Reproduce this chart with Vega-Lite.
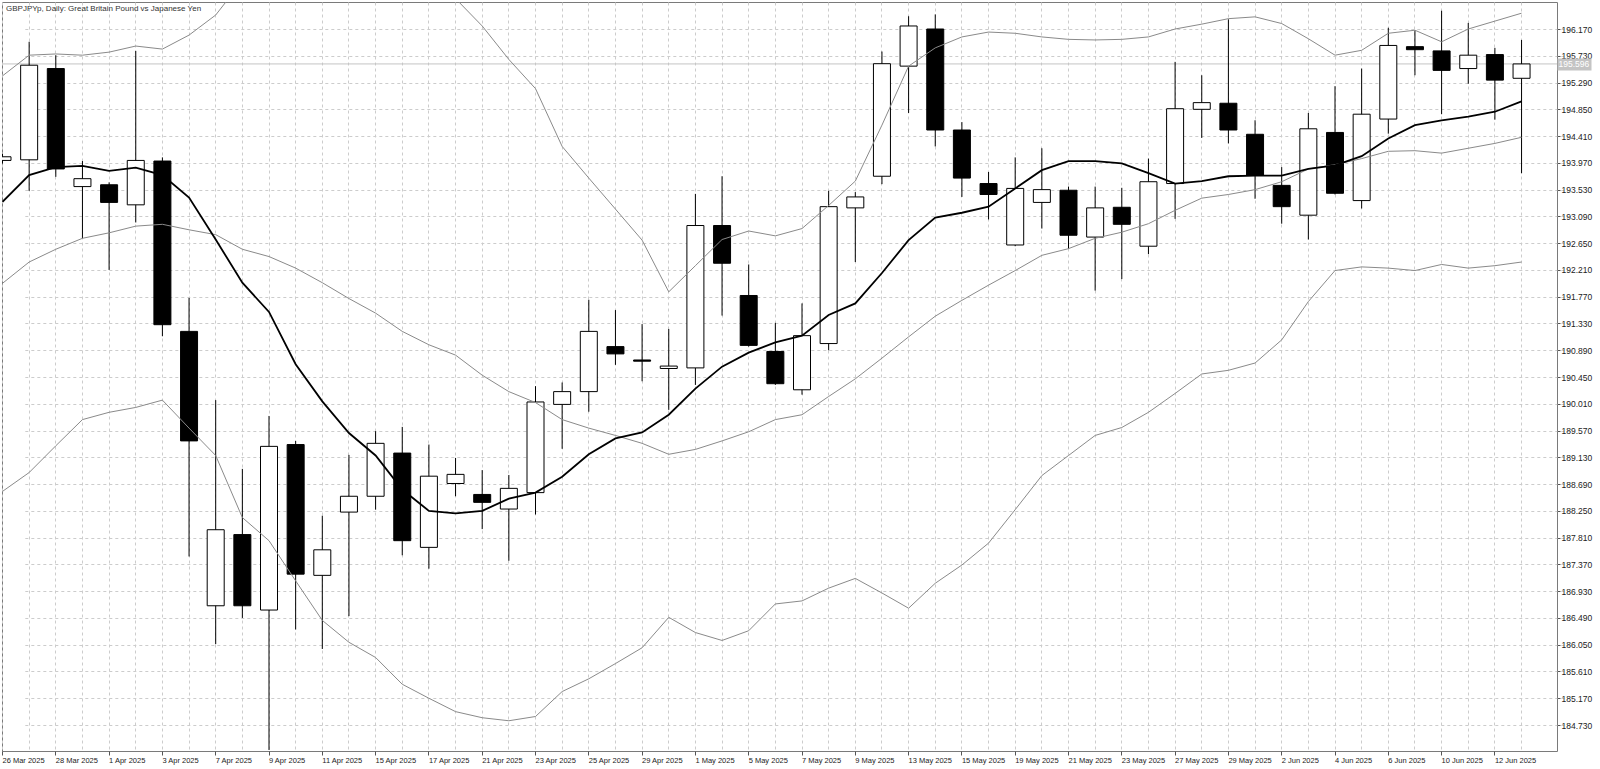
{
  "$schema": "https://vega.github.io/schema/vega-lite/v6.json",
  "width": 1555,
  "height": 749,
  "autosize": {"type": "none"},
  "padding": {"left": 2, "top": 2, "right": 43, "bottom": 18},
  "background": "white",
  "title": {
    "text": "GBPJPYp, Daily:  Great Britain Pound vs Japanese Yen",
    "anchor": "start",
    "frame": "group",
    "offset": -11,
    "dx": 4,
    "fontSize": 8,
    "fontWeight": "normal",
    "color": "#333333"
  },
  "datasets": {
    "bars": [
      {"d": "26 Mar 2025", "o": 194.01, "h": 194.12, "l": 193.96, "c": 194.07, "m": 193.33, "b": 191.99, "u": 195.40, "lo": 188.57},
      {"d": "27 Mar 2025", "o": 194.02, "h": 195.96, "l": 193.51, "c": 195.575, "m": 193.77, "b": 192.34, "u": 195.74, "lo": 188.88},
      {"d": "28 Mar 2025", "o": 195.52, "h": 195.74, "l": 193.74, "c": 193.87, "m": 193.90, "b": 192.55, "u": 195.76, "lo": 189.32},
      {"d": "31 Mar 2025", "o": 193.58, "h": 194.00, "l": 192.73, "c": 193.71, "m": 193.92, "b": 192.73, "u": 195.74, "lo": 189.75},
      {"d": "1 Apr 2025", "o": 193.61, "h": 193.65, "l": 192.21, "c": 193.32, "m": 193.84, "b": 192.82, "u": 195.79, "lo": 189.87},
      {"d": "2 Apr 2025", "o": 193.28, "h": 195.81, "l": 192.99, "c": 194.01, "m": 193.89, "b": 192.93, "u": 195.89, "lo": 189.95},
      {"d": "3 Apr 2025", "o": 194.00, "h": 194.06, "l": 191.12, "c": 191.31, "m": 193.77, "b": 192.96, "u": 195.84, "lo": 190.07},
      {"d": "4 Apr 2025", "o": 191.20, "h": 191.75, "l": 187.50, "c": 189.40, "m": 193.40, "b": 192.87, "u": 196.07, "lo": 189.61},
      {"d": "7 Apr 2025", "o": 186.69, "h": 190.07, "l": 186.06, "c": 187.94, "m": 192.71, "b": 192.79, "u": 196.40, "lo": 189.16},
      {"d": "8 Apr 2025", "o": 187.86, "h": 188.94, "l": 186.49, "c": 186.69, "m": 192.00, "b": 192.55, "u": 196.96, "lo": 188.14},
      {"d": "9 Apr 2025", "o": 186.62, "h": 189.81, "l": 184.32, "c": 189.31, "m": 191.52, "b": 192.43, "u": 197.10, "lo": 187.76},
      {"d": "10 Apr 2025", "o": 189.34, "h": 189.40, "l": 186.30, "c": 187.21, "m": 190.66, "b": 192.24, "u": 197.38, "lo": 187.10},
      {"d": "11 Apr 2025", "o": 187.19, "h": 188.17, "l": 185.98, "c": 187.61, "m": 190.05, "b": 192.00, "u": 197.55, "lo": 186.45},
      {"d": "14 Apr 2025", "o": 188.23, "h": 189.17, "l": 186.52, "c": 188.49, "m": 189.53, "b": 191.74, "u": 197.39, "lo": 186.09},
      {"d": "15 Apr 2025", "o": 188.49, "h": 189.56, "l": 188.27, "c": 189.36, "m": 189.16, "b": 191.50, "u": 197.16, "lo": 185.84},
      {"d": "16 Apr 2025", "o": 189.20, "h": 189.63, "l": 187.52, "c": 187.76, "m": 188.60, "b": 191.20, "u": 197.00, "lo": 185.40},
      {"d": "17 Apr 2025", "o": 187.65, "h": 189.34, "l": 187.30, "c": 188.82, "m": 188.25, "b": 190.98, "u": 196.79, "lo": 185.17},
      {"d": "18 Apr 2025", "o": 188.70, "h": 189.12, "l": 188.49, "c": 188.85, "m": 188.21, "b": 190.81, "u": 196.67, "lo": 184.95},
      {"d": "21 Apr 2025", "o": 188.52, "h": 188.92, "l": 187.95, "c": 188.39, "m": 188.25, "b": 190.48, "u": 196.22, "lo": 184.85},
      {"d": "22 Apr 2025", "o": 188.28, "h": 188.84, "l": 187.43, "c": 188.62, "m": 188.45, "b": 190.21, "u": 195.67, "lo": 184.80},
      {"d": "23 Apr 2025", "o": 188.55, "h": 190.30, "l": 188.19, "c": 190.04, "m": 188.55, "b": 190.03, "u": 195.19, "lo": 184.87},
      {"d": "24 Apr 2025", "o": 190.00, "h": 190.36, "l": 189.27, "c": 190.21, "m": 188.81, "b": 189.75, "u": 194.24, "lo": 185.28},
      {"d": "25 Apr 2025", "o": 190.21, "h": 191.72, "l": 189.88, "c": 191.20, "m": 189.18, "b": 189.61, "u": 193.72, "lo": 185.49},
      {"d": "28 Apr 2025", "o": 190.95, "h": 191.55, "l": 190.65, "c": 190.83, "m": 189.44, "b": 189.49, "u": 193.21, "lo": 185.74},
      {"d": "29 Apr 2025", "o": 190.73, "h": 191.32, "l": 190.38, "c": 190.71, "m": 189.54, "b": 189.36, "u": 192.70, "lo": 186.00},
      {"d": "30 Apr 2025", "o": 190.59, "h": 191.24, "l": 189.91, "c": 190.63, "m": 189.83, "b": 189.18, "u": 191.85, "lo": 186.50},
      {"d": "1 May 2025", "o": 190.60, "h": 193.46, "l": 190.32, "c": 192.94, "m": 190.26, "b": 189.26, "u": 192.28, "lo": 186.25},
      {"d": "2 May 2025", "o": 192.94, "h": 193.75, "l": 191.46, "c": 192.32, "m": 190.62, "b": 189.40, "u": 192.71, "lo": 186.12},
      {"d": "5 May 2025", "o": 191.79, "h": 192.30, "l": 190.95, "c": 190.97, "m": 190.85, "b": 189.55, "u": 192.85, "lo": 186.28},
      {"d": "6 May 2025", "o": 190.87, "h": 191.34, "l": 190.32, "c": 190.34, "m": 191.02, "b": 189.75, "u": 192.77, "lo": 186.72},
      {"d": "7 May 2025", "o": 190.24, "h": 191.66, "l": 190.16, "c": 191.13, "m": 191.13, "b": 189.83, "u": 192.89, "lo": 186.77},
      {"d": "8 May 2025", "o": 191.00, "h": 193.51, "l": 190.89, "c": 193.25, "m": 191.47, "b": 190.13, "u": 193.27, "lo": 186.98},
      {"d": "9 May 2025", "o": 193.23, "h": 193.49, "l": 192.34, "c": 193.41, "m": 191.66, "b": 190.42, "u": 193.67, "lo": 187.14},
      {"d": "12 May 2025", "o": 193.75, "h": 195.80, "l": 193.62, "c": 195.60, "m": 192.16, "b": 190.76, "u": 194.59, "lo": 186.90},
      {"d": "13 May 2025", "o": 195.56, "h": 196.38, "l": 194.79, "c": 196.22, "m": 192.70, "b": 191.11, "u": 195.56, "lo": 186.65},
      {"d": "14 May 2025", "o": 196.17, "h": 196.41, "l": 194.24, "c": 194.51, "m": 193.07, "b": 191.45, "u": 195.86, "lo": 187.06},
      {"d": "15 May 2025", "o": 194.51, "h": 194.64, "l": 193.41, "c": 193.72, "m": 193.15, "b": 191.71, "u": 196.04, "lo": 187.36},
      {"d": "16 May 2025", "o": 193.63, "h": 193.82, "l": 193.04, "c": 193.45, "m": 193.25, "b": 191.96, "u": 196.12, "lo": 187.72},
      {"d": "19 May 2025", "o": 192.62, "h": 194.06, "l": 192.60, "c": 193.55, "m": 193.55, "b": 192.20, "u": 196.10, "lo": 188.27},
      {"d": "20 May 2025", "o": 193.32, "h": 194.21, "l": 192.89, "c": 193.53, "m": 193.85, "b": 192.45, "u": 196.04, "lo": 188.83},
      {"d": "21 May 2025", "o": 193.52, "h": 193.58, "l": 192.56, "c": 192.78, "m": 194.00, "b": 192.56, "u": 196.00, "lo": 189.16},
      {"d": "22 May 2025", "o": 192.75, "h": 193.58, "l": 191.87, "c": 193.23, "m": 194.00, "b": 192.73, "u": 195.99, "lo": 189.49},
      {"d": "23 May 2025", "o": 193.24, "h": 193.56, "l": 192.06, "c": 192.96, "m": 193.96, "b": 192.83, "u": 196.00, "lo": 189.62},
      {"d": "26 May 2025", "o": 192.60, "h": 194.04, "l": 192.47, "c": 193.66, "m": 193.80, "b": 192.97, "u": 196.04, "lo": 189.87},
      {"d": "27 May 2025", "o": 193.63, "h": 195.63, "l": 193.05, "c": 194.86, "m": 193.63, "b": 193.19, "u": 196.17, "lo": 190.18},
      {"d": "28 May 2025", "o": 194.85, "h": 195.41, "l": 194.38, "c": 194.96, "m": 193.67, "b": 193.39, "u": 196.25, "lo": 190.50},
      {"d": "29 May 2025", "o": 194.95, "h": 196.33, "l": 194.29, "c": 194.51, "m": 193.75, "b": 193.45, "u": 196.34, "lo": 190.56},
      {"d": "30 May 2025", "o": 194.44, "h": 194.67, "l": 193.38, "c": 193.77, "m": 193.76, "b": 193.53, "u": 196.37, "lo": 190.68},
      {"d": "2 Jun 2025", "o": 193.60, "h": 193.90, "l": 192.97, "c": 193.25, "m": 193.76, "b": 193.66, "u": 196.26, "lo": 191.06},
      {"d": "3 Jun 2025", "o": 193.11, "h": 194.79, "l": 192.71, "c": 194.53, "m": 193.87, "b": 193.87, "u": 196.01, "lo": 191.69},
      {"d": "4 Jun 2025", "o": 194.47, "h": 195.23, "l": 193.45, "c": 193.47, "m": 193.93, "b": 193.94, "u": 195.74, "lo": 192.20},
      {"d": "5 Jun 2025", "o": 193.35, "h": 195.52, "l": 193.22, "c": 194.77, "m": 194.08, "b": 194.04, "u": 195.82, "lo": 192.26},
      {"d": "6 Jun 2025", "o": 194.69, "h": 196.19, "l": 194.45, "c": 195.90, "m": 194.37, "b": 194.16, "u": 196.10, "lo": 192.24},
      {"d": "9 Jun 2025", "o": 195.88, "h": 196.15, "l": 195.41, "c": 195.83, "m": 194.59, "b": 194.17, "u": 196.15, "lo": 192.20},
      {"d": "10 Jun 2025", "o": 195.81, "h": 196.47, "l": 194.77, "c": 195.49, "m": 194.67, "b": 194.13, "u": 195.96, "lo": 192.30},
      {"d": "11 Jun 2025", "o": 195.52, "h": 196.27, "l": 195.27, "c": 195.74, "m": 194.73, "b": 194.21, "u": 196.17, "lo": 192.24},
      {"d": "12 Jun 2025", "o": 195.75, "h": 195.86, "l": 194.68, "c": 195.33, "m": 194.81, "b": 194.29, "u": 196.30, "lo": 192.28},
      {"d": "13 Jun 2025", "o": 195.36, "h": 195.99, "l": 193.80, "c": 195.596, "m": 194.98, "b": 194.39, "u": 196.43, "lo": 192.34}
    ],
    "last": [{"p": 195.596}]
  },
  "layer": [
    {
      "data": {"name": "last"},
      "mark": {"type": "rule", "color": "#c4c4c4", "strokeWidth": 1},
      "encoding": {
        "y": {
          "field": "p",
          "type": "quantitative",
          "scale": {"domain": [184.303, 196.614], "nice": false, "zero": false},
          "axis": {
            "orient": "right",
            "values": [195.596],
            "format": ".3f",
            "grid": false,
            "domain": false,
            "tickSize": 34,
            "tickWidth": 12,
            "tickColor": "#c4c4c4",
            "labelPadding": -33,
            "labelAlign": "left",
            "labelColor": "white",
            "labelFontSize": 8.5,
            "zindex": 3
          }
        }
      }
    },
    {
      "data": {"name": "bars"},
      "encoding": {
        "x": {
          "field": "d",
          "type": "ordinal",
          "sort": null,
          "scale": {"range": [-12.825, 1532.875], "paddingInner": 0, "paddingOuter": 0},
          "axis": {
            "orient": "bottom",
            "grid": true,
            "gridDash": [3, 3],
            "gridColor": "#cccccc",
            "domain": false,
            "tickSize": 4,
            "tickColor": "#555555",
            "tickOpacity": {
              "condition": {
                "test": "indexof(['26 Mar 2025','28 Mar 2025','1 Apr 2025','3 Apr 2025','7 Apr 2025','9 Apr 2025','11 Apr 2025','15 Apr 2025','17 Apr 2025','21 Apr 2025','23 Apr 2025','25 Apr 2025','29 Apr 2025','1 May 2025','5 May 2025','7 May 2025','9 May 2025','13 May 2025','15 May 2025','19 May 2025','21 May 2025','23 May 2025','27 May 2025','29 May 2025','2 Jun 2025','4 Jun 2025','6 Jun 2025','10 Jun 2025','12 Jun 2025'], datum.value) < 0",
                "value": 0
              },
              "value": 1
            },
            "labelExpr": "indexof(['26 Mar 2025','28 Mar 2025','1 Apr 2025','3 Apr 2025','7 Apr 2025','9 Apr 2025','11 Apr 2025','15 Apr 2025','17 Apr 2025','21 Apr 2025','23 Apr 2025','25 Apr 2025','29 Apr 2025','1 May 2025','5 May 2025','7 May 2025','9 May 2025','13 May 2025','15 May 2025','19 May 2025','21 May 2025','23 May 2025','27 May 2025','29 May 2025','2 Jun 2025','4 Jun 2025','6 Jun 2025','10 Jun 2025','12 Jun 2025'], datum.value) >= 0 ? datum.value : ''",
            "labelAngle": 0,
            "labelAlign": "left",
            "labelBaseline": "top",
            "labelPadding": 1,
            "labelFontSize": 7.5,
            "labelColor": "#222222"
          }
        }
      },
      "layer": [
        {
          "mark": {"type": "rule", "color": "black", "strokeWidth": 1, "clip": true},
          "encoding": {
            "y": {
              "field": "l",
              "type": "quantitative",
              "scale": {"domain": [184.303, 196.614], "nice": false, "zero": false},
              "axis": {
                "orient": "right",
                "values": [184.73, 185.17, 185.61, 186.05, 186.49, 186.93, 187.37, 187.81, 188.25, 188.69, 189.13, 189.57, 190.01, 190.45, 190.89, 191.33, 191.77, 192.21, 192.65, 193.09, 193.53, 193.97, 194.41, 194.85, 195.29, 195.73, 196.17],
                "format": ".3f",
                "grid": true,
                "gridDash": [3, 3],
                "gridColor": "#cccccc",
                "domain": false,
                "tickSize": 3,
                "tickColor": "#555555",
                "labelPadding": 1,
                "labelFontSize": 8.5,
                "labelColor": "#222222"
              }
            },
            "y2": {"field": "h"}
          }
        },
        {
          "mark": {"type": "bar", "width": 17, "stroke": "black", "strokeWidth": 1, "clip": true},
          "encoding": {
            "y": {"field": "o", "type": "quantitative", "scale": {"domain": [184.303, 196.614], "nice": false, "zero": false}},
            "y2": {"field": "c"},
            "fill": {"condition": {"test": "datum.c >= datum.o", "value": "white"}, "value": "black"}
          }
        },
        {
          "mark": {"type": "line", "color": "#8a8a8a", "strokeWidth": 1, "clip": true},
          "encoding": {"y": {"field": "u", "type": "quantitative", "scale": {"domain": [184.303, 196.614], "nice": false, "zero": false}}}
        },
        {
          "mark": {"type": "line", "color": "#8a8a8a", "strokeWidth": 1, "clip": true},
          "encoding": {"y": {"field": "b", "type": "quantitative", "scale": {"domain": [184.303, 196.614], "nice": false, "zero": false}}}
        },
        {
          "mark": {"type": "line", "color": "#8a8a8a", "strokeWidth": 1, "clip": true},
          "encoding": {"y": {"field": "lo", "type": "quantitative", "scale": {"domain": [184.303, 196.614], "nice": false, "zero": false}}}
        },
        {
          "mark": {"type": "line", "color": "black", "strokeWidth": 1.8, "clip": true},
          "encoding": {"y": {"field": "m", "type": "quantitative", "scale": {"domain": [184.303, 196.614], "nice": false, "zero": false}}}
        }
      ]
    }
  ],
  "resolve": {"axis": {"y": "independent"}},
  "config": {
    "font": "Liberation Sans",
    "view": {"stroke": "#7a7a7a", "strokeWidth": 1},
    "axis": {
      "title": null,
      "labelFont": "Liberation Sans",
      "labelOverlap": false,
      "labelBound": false,
      "labelFlush": false,
      "labelSeparation": 0
    },
    "axisY": {"labelOverlap": false},
    "axisQuantitative": {"labelOverlap": false, "tickCount": 30}
  }
}
